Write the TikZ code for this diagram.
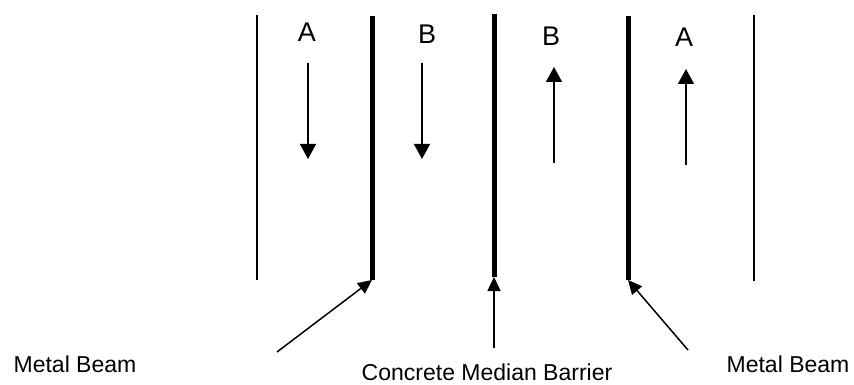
\documentclass[tikz,border=0pt]{standalone}
\usepackage{fontspec}
\setmainfont{Liberation Sans}
\usetikzlibrary{arrows.meta}

\tikzset{
    edge/.style={line width=1.5pt, black},
    barrier/.style={line width=5pt, black},
    lane/.style={line width=1.5pt, -{Triangle[width=16pt,length=15pt]}},
    pointer/.style={line width=1.5pt, -{Triangle[width=13pt,length=14pt]}},
    lanelabel/.style={anchor=base, inner sep=0pt, font=\fontsize{27}{27}\selectfont},
    caption/.style={anchor=base, inner sep=0pt, font=\fontsize{23}{23}\selectfont}
}

\begin{document}
\begin{tikzpicture}[x=1pt, y=-1pt]
\useasboundingbox (0,0) rectangle (854,385);

% road edges and barriers
\draw[edge] (257,15) -- (257,280);
\draw[barrier] (372,16) -- (372,280) coordinate (beamL);
\draw[barrier] (494,14) -- (494,277) coordinate (median);
\draw[barrier] (628,16) -- (628,280) coordinate (beamR);
\draw[edge] (754,15) -- (754,281);

% lanes
\node[lanelabel] (laneA1) at (307,42) {A};
\node[lanelabel] (laneB1) at (427,44) {B};
\node[lanelabel] (laneB2) at (551,46) {B};
\node[lanelabel] (laneA2) at (684,47) {A};

\draw[lane] (308,63) -- (308,159);
\draw[lane] (422,63) -- (422,159);
\draw[lane] (554,163) -- (554,67);
\draw[lane] (686,165) -- (686,69);

% captions
\node[caption] (capL) at (75,372) {Metal Beam};
\node[caption] (capM) at (487,380) {Concrete Median Barrier};
\node[caption] (capR) at (788,372) {Metal Beam};

\coordinate (tailL) at (277,352);
\coordinate (tailM) at (494,348);
\coordinate (tailR) at (688,350);

\draw[pointer] (tailL) -- (beamL);
\draw[pointer] (tailM) -- (median);
\draw[pointer] (tailR) -- (beamR);

\end{tikzpicture}
\end{document}
